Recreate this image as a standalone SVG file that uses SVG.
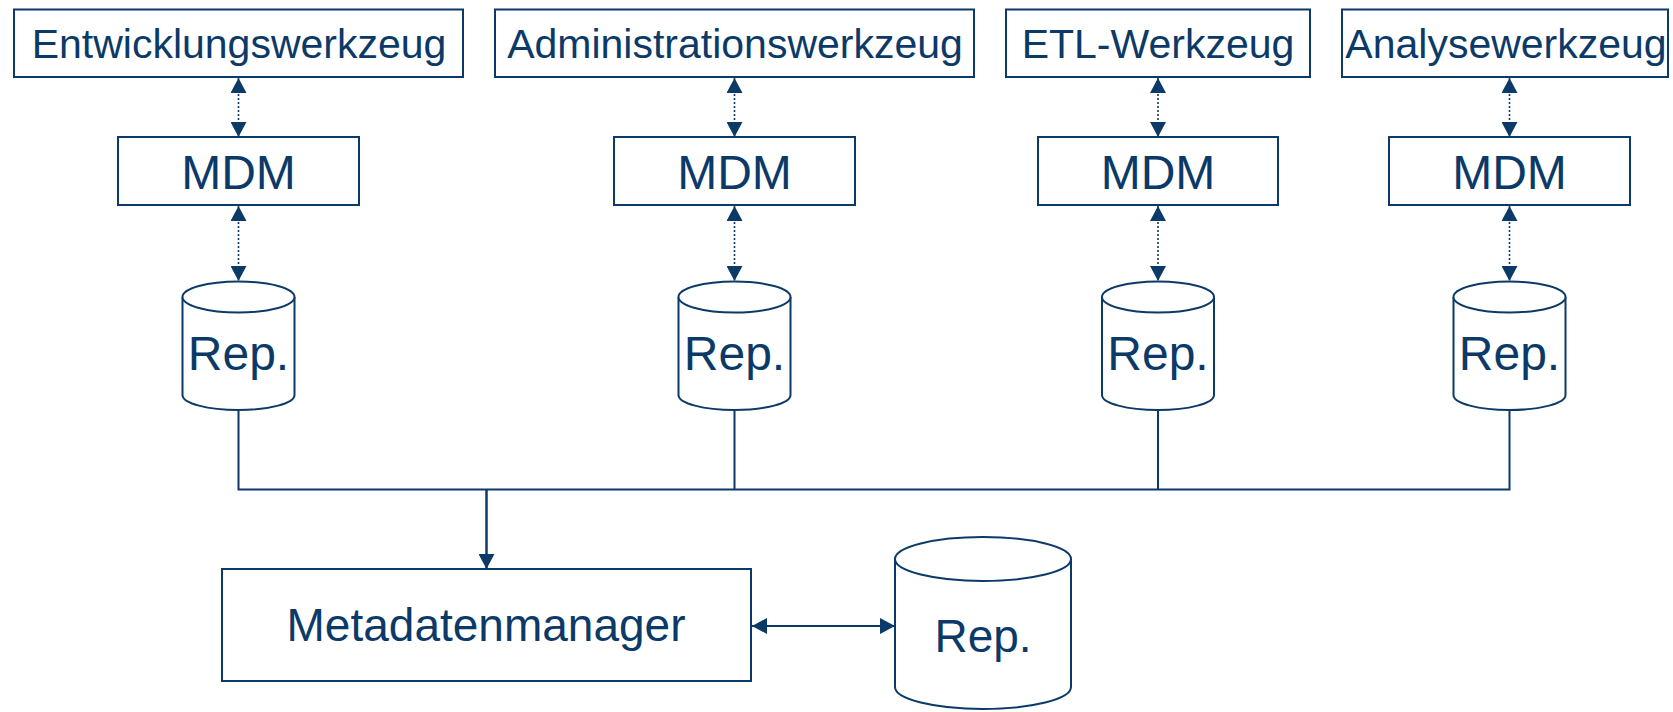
<svg xmlns="http://www.w3.org/2000/svg" width="1673" height="712" viewBox="0 0 1673 712">
<style>
.box{fill:#fff;stroke:#0b3a68;stroke-width:2}
.cyl{fill:#fff;stroke:#0b3a68;stroke-width:2}
.t{font-family:"Liberation Sans",Arial,sans-serif;fill:#0b3a68;text-anchor:middle}
.tool{font-size:41px}
.big{font-size:46px}
.mid{font-size:48px}
.dot{stroke:#0b3a68;stroke-width:1.6;stroke-dasharray:2,2;fill:none;marker-start:url(#ah);marker-end:url(#ah)}
.solid{stroke:#0b3a68;stroke-width:2;fill:none}
</style>
<defs>
<marker id="ah" markerUnits="userSpaceOnUse" markerWidth="15" markerHeight="16" refX="15" refY="8" orient="auto-start-reverse" viewBox="0 0 15 16">
<path d="M0,0 L15,8 L0,16 z" fill="#0b3a68"/>
</marker>
</defs>
<g id="connectors">
<line class="dot" x1="238.5" y1="78" x2="238.5" y2="137"/>
<line class="dot" x1="238.5" y1="206" x2="238.5" y2="281"/>
<line class="dot" x1="734.5" y1="78" x2="734.5" y2="137"/>
<line class="dot" x1="734.5" y1="206" x2="734.5" y2="281"/>
<line class="dot" x1="1158" y1="78" x2="1158" y2="137"/>
<line class="dot" x1="1158" y1="206" x2="1158" y2="281"/>
<line class="dot" x1="1509.5" y1="78" x2="1509.5" y2="137"/>
<line class="dot" x1="1509.5" y1="206" x2="1509.5" y2="281"/>
<path class="solid" d="M238.5,410 V489.5 H1509.5 V410 M734.5,410 V489.5 M1158,410 V489.5"/>
<line class="solid" x1="486.5" y1="489.5" x2="486.5" y2="569" style="stroke-width:2.5;marker-end:url(#ah)"/>
<line class="solid" x1="752" y1="626" x2="895" y2="626" style="marker-start:url(#ah);marker-end:url(#ah)"/>
</g>
<g id="tool-entwicklung"><rect class="box" x="14" y="9.5" width="449" height="67.5"/><text class="t tool" x="239" y="58">Entwicklungswerkzeug</text></g>
<g id="tool-admin"><rect class="box" x="495" y="9.5" width="479" height="67.5"/><text class="t tool" x="735" y="58">Administrationswerkzeug</text></g>
<g id="tool-etl"><rect class="box" x="1006" y="9.5" width="304" height="67.5"/><text class="t tool" x="1158" y="58">ETL-Werkzeug</text></g>
<g id="tool-analyse"><rect class="box" x="1342" y="9.5" width="326" height="67.5"/><text class="t tool" x="1506" y="58">Analysewerkzeug</text></g>
<g id="mdm1"><rect class="box" x="118" y="137" width="241" height="68"/><text class="t mid" x="238.5" y="188.5">MDM</text></g>
<g id="mdm2"><rect class="box" x="614" y="137" width="241" height="68"/><text class="t mid" x="734.5" y="188.5">MDM</text></g>
<g id="mdm3"><rect class="box" x="1038" y="137" width="240" height="68"/><text class="t mid" x="1158" y="188.5">MDM</text></g>
<g id="mdm4"><rect class="box" x="1389" y="137" width="241" height="68"/><text class="t mid" x="1509.5" y="188.5">MDM</text></g>
<g id="rep1"><path class="cyl" d="M182.5,297 V395 A56,15 0 0 0 294.5,395 V297"/><ellipse class="cyl" cx="238.5" cy="297" rx="56" ry="15.5"/><text class="t mid" x="238.5" y="369.5">Rep.</text></g>
<g id="rep2"><path class="cyl" d="M678.5,297 V395 A56,15 0 0 0 790.5,395 V297"/><ellipse class="cyl" cx="734.5" cy="297" rx="56" ry="15.5"/><text class="t mid" x="734.5" y="369.5">Rep.</text></g>
<g id="rep3"><path class="cyl" d="M1102,297 V395 A56,15 0 0 0 1214,395 V297"/><ellipse class="cyl" cx="1158" cy="297" rx="56" ry="15.5"/><text class="t mid" x="1158" y="369.5">Rep.</text></g>
<g id="rep4"><path class="cyl" d="M1453.5,297 V395 A56,15 0 0 0 1565.5,395 V297"/><ellipse class="cyl" cx="1509.5" cy="297" rx="56" ry="15.5"/><text class="t mid" x="1509.5" y="369.5">Rep.</text></g>
<g id="metadatenmanager"><rect class="box" x="222" y="569" width="529" height="112"/><text class="t big" x="486" y="641">Metadatenmanager</text></g>
<g id="rep-main"><path class="cyl" d="M895,559 V687 A88,22 0 0 0 1071,687 V559"/><ellipse class="cyl" cx="983" cy="559" rx="88" ry="22"/><text class="t big" x="983" y="652">Rep.</text></g>
</svg>
